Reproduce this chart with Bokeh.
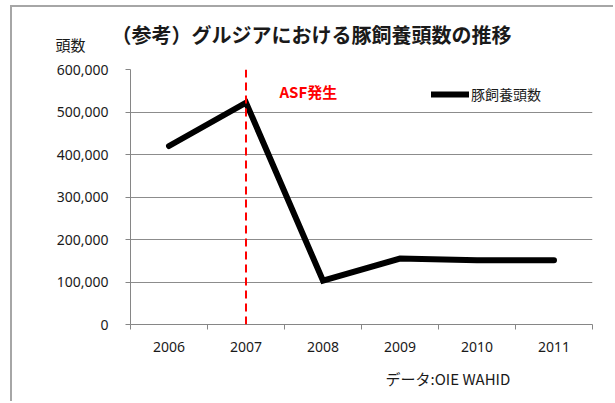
from bokeh.plotting import figure
from bokeh.layouts import column, row
from bokeh.models import (FixedTicker, NumeralTickFormatter, Span, Label, Legend, LegendItem,
                          ColumnDataSource, Range1d, Title, Spacer)
from bokeh.embed import file_html
from bokeh.resources import INLINE

# ---- data ----
years = [2006, 2007, 2008, 2009, 2010, 2011]
year_labels = ["2006", "2007", "2008", "2009", "2010", "2011"]
pig_heads = [420000, 522000, 103000, 155000, 151000, 151000]
y_ticks = [0, 100000, 200000, 300000, 400000, 500000, 600000]
asf_year = 2007

title_text = "（参考）グルジアにおける豚飼養頭数の推移"
y_title = "頭数"
series_name = "豚飼養頭数"
asf_text = "ASF発生"
source_text = "データ:OIE WAHID"

JP = "Noto Sans CJK JP"
NUM = "Noto Sans"
BORDER = "2px solid #a6a6a6"

# ---- header strip: chart title + y-axis caption ----
top = figure(width=603, height=53, output_backend="svg", toolbar_location=None,
             x_range=Range1d(0, 1), y_range=Range1d(0, 1), x_axis_type=None,
             min_border_left=118, min_border_right=23, min_border_top=36, min_border_bottom=15,
             outline_line_color=None,
             background_fill_color="white", border_fill_color="white",
             styles={"border-left": BORDER, "border-top": BORDER})
top.grid.visible = False
top.title.text = title_text
top.title.align = "left"
top.title.offset = -19
top.title.standoff = -10
top.title.text_font = JP
top.title.text_font_size = "20px"
top.title.text_font_style = "bold"
top.title.text_color = "#1a1a1a"
ty = top.yaxis[0]
ty.ticker = FixedTicker(ticks=[])
ty.major_tick_out = 0
ty.major_tick_in = 0
ty.minor_tick_out = 0
ty.minor_tick_in = 0
ty.axis_line_color = None
ty.axis_label = y_title
ty.axis_label_orientation = "horizontal"
ty.axis_label_standoff = 45
ty.axis_label_text_font = JP
ty.axis_label_text_font_size = "15px"
ty.axis_label_text_font_style = "normal"
ty.axis_label_text_color = "#1a1a1a"

# ---- main chart ----
p = figure(width=603, height=343, output_backend="svg", toolbar_location=None,
           x_range=Range1d(years[0] - 0.5, years[-1] + 0.5),
           y_range=Range1d(y_ticks[0], y_ticks[-1]),
           min_border_left=118, min_border_right=23, min_border_top=11, min_border_bottom=77,
           outline_line_color=None, background_fill_color="white", border_fill_color="white",
           title_location=None, styles={"border-left": BORDER})

src = ColumnDataSource(dict(x=years, y=pig_heads))
r = p.line("x", "y", source=src, line_color="black", line_width=6,
           line_cap="round", line_join="miter")

# red dashed event line
p.add_layout(Span(location=asf_year, dimension="height", line_color="#ff0000",
                  line_width=2, line_dash="8 5"))

# axes
xa = p.xaxis[0]
xa.ticker = FixedTicker(ticks=years, minor_ticks=[y - 0.5 for y in years] + [years[-1] + 0.5])
xa.major_label_overrides = {y: l for y, l in zip(years, year_labels)}
xa.major_tick_out = 0
xa.major_tick_in = 0
xa.minor_tick_out = 5
xa.minor_tick_in = 0
xa.minor_tick_line_color = "#868686"
xa.axis_line_color = "#868686"
xa.major_label_text_font = NUM
xa.major_label_text_font_size = "14px"
xa.major_label_text_color = "#1a1a1a"
xa.major_label_standoff = 12

ya = p.yaxis[0]
ya.ticker = FixedTicker(ticks=y_ticks)
ya.formatter = NumeralTickFormatter(format="0,0")
ya.major_tick_out = 5
ya.major_tick_in = 0
ya.minor_tick_out = 0
ya.minor_tick_in = 0
ya.major_tick_line_color = "#868686"
ya.axis_line_color = "#868686"
ya.major_label_text_font = NUM
ya.major_label_text_font_size = "14px"
ya.major_label_text_color = "#1a1a1a"
ya.major_label_standoff = 17

p.xgrid.grid_line_color = None
p.ygrid.grid_line_color = "#8c8c8c"
p.ygrid.grid_line_width = 1

p.add_layout(Title(text=source_text, align="left", offset=255, text_font=JP,
                   text_font_size="15px", text_font_style="normal", text_color="#1a1a1a",
                   standoff=22), "below")

# in-frame label (screen units relative to frame)
p.add_layout(Label(x=149, y=233, x_units="screen", y_units="screen", text=asf_text,
                   text_font=JP, text_font_size="15px", text_font_style="bold",
                   text_align="left", text_baseline="middle", text_color="#ff0000"))

legend = Legend(items=[LegendItem(label=series_name, renderers=[r])],
                location=(301, 220), border_line_color=None, background_fill_alpha=0,
                label_text_font=JP, label_text_font_size="14px", label_text_color="#1a1a1a",
                glyph_width=38, label_standoff=2, padding=4, margin=0)
p.add_layout(legend)

page = column(Spacer(height=5),
              row(Spacer(width=10), column(top, p, spacing=0), spacing=0),
              spacing=0)

open("out.html", "w").write(file_html(page, INLINE))
